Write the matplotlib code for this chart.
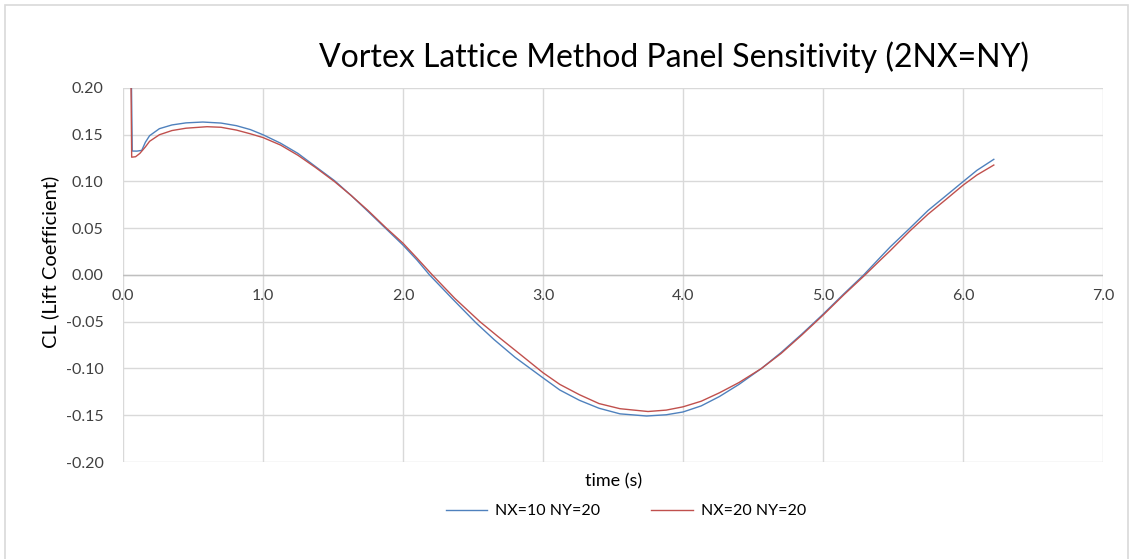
import matplotlib
matplotlib.use("Agg")
import matplotlib.pyplot as plt
from matplotlib.lines import Line2D
from matplotlib.patches import Rectangle

plt.rcParams['font.family'] = ['Lato', 'DejaVu Sans']

title = "Vortex Lattice Method Panel Sensitivity (2NX=NY)"
xlabel = "time (s)"
ylabel = "CL (Lift Coefficient)"
series_names = ["NX=10 NY=20", "NX=20 NY=20"]
series_colors = ["#4F81BD", "#C0504D"]

x_ticks = [0.0, 1.0, 2.0, 3.0, 4.0, 5.0, 6.0, 7.0]
x_tick_labels = ["0.0", "1.0", "2.0", "3.0", "4.0", "5.0", "6.0", "7.0"]
y_ticks = [-0.20, -0.15, -0.10, -0.05, 0.00, 0.05, 0.10, 0.15, 0.20]
y_tick_labels = ["-0.20", "-0.15", "-0.10", "-0.05", "0.00", "0.05", "0.10", "0.15", "0.20"]

t_nx10 = [0.045, 0.066, 0.10, 0.134, 0.16, 0.19, 0.26, 0.35, 0.45, 0.57, 0.70, 0.81, 0.91,
          1.0, 1.125, 1.25, 1.375, 1.51, 1.63, 1.75, 1.875, 2.0, 2.1, 2.19, 2.35, 2.52,
          2.65, 2.8, 3.0, 3.12, 3.26, 3.4, 3.55, 3.74, 3.88, 4.0, 4.13, 4.26, 4.4, 4.56,
          4.7, 4.85, 5.0, 5.15, 5.29, 5.41, 5.48, 5.62, 5.75, 5.88, 6.0, 6.1, 6.22]
cl_nx10 = [0.40, 0.1326, 0.1325, 0.1333, 0.142, 0.149, 0.1565, 0.1605, 0.1627, 0.1636, 0.1625,
           0.1597, 0.1555, 0.1500, 0.141, 0.130, 0.116, 0.101, 0.085, 0.068, 0.050, 0.032,
           0.016, 0.000, -0.025, -0.051, -0.069, -0.088, -0.110, -0.123, -0.134, -0.1425,
           -0.1485, -0.1508, -0.1495, -0.1465, -0.140, -0.130, -0.117, -0.100, -0.083,
           -0.063, -0.042, -0.020, 0.000, 0.019, 0.030, 0.050, 0.069, 0.085, 0.0998,
           0.112, 0.1237]

t_nx20 = [0.045, 0.062, 0.09, 0.12, 0.16, 0.19, 0.26, 0.35, 0.45, 0.60, 0.70, 0.81, 0.91,
          1.0, 1.125, 1.25, 1.375, 1.51, 1.63, 1.75, 1.875, 2.0, 2.1, 2.21, 2.37, 2.55,
          2.68, 2.83, 3.0, 3.12, 3.26, 3.4, 3.55, 3.75, 3.88, 4.0, 4.13, 4.26, 4.4, 4.56,
          4.7, 4.85, 5.0, 5.15, 5.30, 5.41, 5.48, 5.62, 5.75, 5.88, 6.0, 6.1, 6.22]
cl_nx20 = [0.40, 0.126, 0.1265, 0.130, 0.137, 0.143, 0.150, 0.1545, 0.157, 0.1586, 0.158,
           0.155, 0.151, 0.147, 0.139, 0.128, 0.115, 0.100, 0.085, 0.069, 0.051, 0.034,
           0.018, 0.000, -0.025, -0.050, -0.066, -0.084, -0.1045, -0.1170, -0.128, -0.1375,
           -0.1430, -0.146, -0.1445, -0.141, -0.135, -0.126, -0.115, -0.100, -0.084,
           -0.064, -0.043, -0.021, 0.000, 0.016, 0.026, 0.047, 0.065, 0.081, 0.096,
           0.107, 0.1176]

W, H = 1132, 559
fig = plt.figure(figsize=(W / 100, H / 100), dpi=100)
fig.patch.set_facecolor("white")

# chart border
fig.add_artist(Rectangle((4.5 / W, -0.01), (W - 9) / W, 1 - 4.5 / H + 0.01,
                         transform=fig.transFigure, fill=False, edgecolor="#D9D9D9", lw=1.2))

left, right, top, bottom = 123, 1103, 88, 462
ax = fig.add_axes([left / W, 1 - bottom / H, (right - left) / W, (bottom - top) / H])
ax.set_xlim(0, 7)
ax.set_ylim(-0.20, 0.20)
for s in ax.spines.values():
    s.set_visible(False)

grid_c = "#D9D9D9"
for xv in x_ticks:
    ax.axvline(xv, color=grid_c, lw=1.0, zorder=0)
for yv in y_ticks:
    ax.axhline(yv, color=grid_c, lw=1.0, zorder=0)
ax.axhline(0.0, color="#BFBFBF", lw=1.0, zorder=0.5)

ax.set_xticks([])
ax.set_yticks(y_ticks)
ax.set_yticklabels(y_tick_labels, fontsize=11.5, color="#404040")
ax.tick_params(axis="y", length=0, pad=14)

for xv, lab in zip(x_ticks, x_tick_labels):
    ax.annotate(lab, xy=(xv, 0.0), xycoords="data", xytext=(0, -10),
                textcoords="offset points", ha="center", va="top", fontsize=11.5,
                color="#404040")

ax.plot(t_nx10, cl_nx10, color=series_colors[0], lw=1.0, label=series_names[0], zorder=3)
ax.plot(t_nx20, cl_nx20, color=series_colors[1], lw=1.0, label=series_names[1], zorder=3)

fig.text(674 / W, 1 - 57 / H, title, ha="center", va="center", fontsize=23, color="#000000")
fig.text(50 / W, 1 - 262 / H, ylabel, ha="center", va="center", rotation=90,
         fontsize=14.5, color="#000000")
fig.text(614 / W, 1 - 481 / H, xlabel, ha="center", va="center", fontsize=13, color="#000000")

handles = [Line2D([0], [0], color=c, lw=1.0) for c in series_colors]
fig.legend(handles, series_names, loc="center", bbox_to_anchor=(626 / W, 1 - 511 / H),
           ncol=2, frameon=False, fontsize=11.5, handlelength=2.6, columnspacing=3.2,
           handletextpad=0.5)

fig.savefig("out.png", dpi=100, facecolor="white")
